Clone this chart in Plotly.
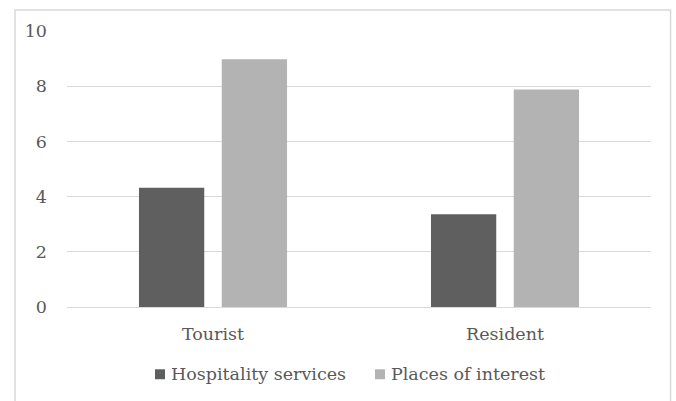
import plotly.graph_objects as go

categories = ["Tourist", "Resident"]
hospitality = [4.32, 3.36]
places = [8.98, 7.88]
series_names = ["Hospitality services", "Places of interest"]
series_colors = ["#5f5f5f", "#b3b3b3"]
y_ticks = [0, 2, 4, 6, 8, 10]

FONT = "DejaVu Serif"
FS = 17.5
TXT = "#595959"

fig = go.Figure()
fig.add_trace(go.Bar(x=categories, y=hospitality, name=series_names[0],
                     marker=dict(color=series_colors[0], line=dict(width=0))))
fig.add_trace(go.Bar(x=categories, y=places, name=series_names[1],
                     marker=dict(color=series_colors[1], line=dict(width=0))))

# plot area in px: x 67..651, y 30.5..307.5
def px_x(p):
    return (p - 67) / 584.0

def px_y(p):
    return (307.5 - p) / 277.0

shapes = [dict(type="rect", xref="paper", yref="paper",
               x0=-0.0890, x1=1.0334, y0=-0.5, y1=1.0758,
               line=dict(color="#d9d9d9", width=1.5), fillcolor="rgba(0,0,0,0)",
               layer="below")]
annotations = []
legend_swatch_x = [155, 375]
for i, name in enumerate(series_names):
    sx = legend_swatch_x[i]
    shapes.append(dict(type="rect", xref="paper", yref="paper",
                       x0=px_x(sx), x1=px_x(sx + 10), y0=px_y(380), y1=px_y(370),
                       line=dict(width=0), fillcolor=series_colors[i]))
    annotations.append(dict(xref="paper", yref="paper", x=px_x(sx + 14), y=px_y(375),
                            xanchor="left", yanchor="middle", showarrow=False,
                            text=name, font=dict(family=FONT, size=FS, color=TXT)))

fig.update_layout(
    width=676, height=401,
    margin=dict(l=67, r=25, t=30.5, b=93.5, autoexpand=False),
    paper_bgcolor="white", plot_bgcolor="white",
    barmode="group", bargap=0.433, bargroupgap=0.2115,
    font=dict(family=FONT, size=FS, color=TXT),
    showlegend=False,
    xaxis=dict(showline=False, showgrid=False, zeroline=False, ticks="",
               ticklabelstandoff=14, tickfont=dict(family=FONT, size=FS, color=TXT)),
    yaxis=dict(range=[0, 10], tickvals=y_ticks, showgrid=True, gridcolor="#d9d9d9",
               gridwidth=1, zeroline=True, zerolinecolor="#d9d9d9", zerolinewidth=1,
               showline=False, ticks="", ticklabelstandoff=19,
               tickfont=dict(family=FONT, size=FS, color=TXT)),
    shapes=shapes,
    annotations=annotations,
)

fig.write_html("out.html")
